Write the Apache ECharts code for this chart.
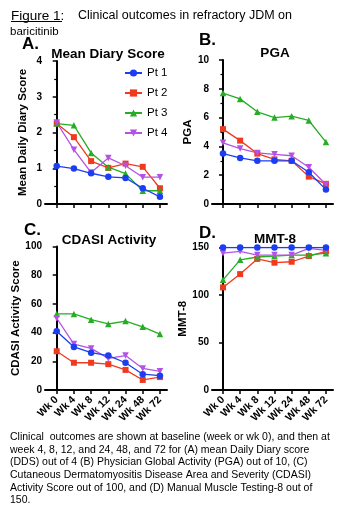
<!DOCTYPE html>
<html>
<head>
<meta charset="utf-8">
<script src="https://cdn.jsdelivr.net/npm/echarts@6/dist/echarts.min.js"></script>
<style>
html,body{margin:0;padding:0;background:#fff;}
#chart{width:355px;height:516px;}
</style>
</head>
<body>
<div id="chart"></div>
<script>
// ---- data ----
var weeks = ['Wk 0', 'Wk 4', 'Wk 8', 'Wk 12', 'Wk 24', 'Wk 48', 'Wk 72'];
var patients = ['Pt 1', 'Pt 2', 'Pt 3', 'Pt 4'];

var diaryPt1 = [1.06, 0.99, 0.86, 0.76, 0.73, 0.44, 0.20];
var diaryPt2 = [2.25, 1.87, 1.20, 1.01, 1.13, 1.04, 0.44];
var diaryPt3 = [2.25, 2.20, 1.43, 1.03, 0.85, 0.37, 0.37];
var diaryPt4 = [2.28, 1.52, 0.88, 1.29, 1.07, 0.75, 0.75];

var pgaPt1 = [3.5, 3.2, 3.0, 3.0, 3.0, 2.2, 1.0];
var pgaPt2 = [5.2, 4.4, 3.5, 3.1, 3.0, 1.9, 1.4];
var pgaPt3 = [7.7, 7.3, 6.4, 6.0, 6.1, 5.8, 4.3];
var pgaPt4 = [4.25, 3.85, 3.55, 3.45, 3.35, 2.55, 1.35];

var cdasiPt1 = [41, 30, 26, 24, 19, 11, 10];
var cdasiPt2 = [27, 19, 19, 18, 14, 7, 9];
var cdasiPt3 = [53, 53, 49, 46, 48, 44, 39];
var cdasiPt4 = [50, 32, 29, 22, 24, 15, 13];

var mmtPt1 = [150, 150, 150, 150, 150, 150, 150];
var mmtPt2 = [108, 122, 138, 134, 135, 141, 146];
var mmtPt3 = [116, 137, 140, 141, 142, 142, 144];
var mmtPt4 = [144, 146, 142, 142, 142, 149, 147];

var panelTitles = ['Mean Diary Score', 'PGA', 'CDASI Activity', 'MMT-8'];
var panelLetters = ['A.', 'B.', 'C.', 'D.'];
var yNames = ['Mean Daily Diary Score', 'PGA', 'CDASI Activity Score', 'MMT-8'];
var yMax = [4, 10, 100, 150];
var yStep = [1, 2, 20, 50];

var headerLead = 'Figure 1';
var headerRest = 'Clinical outcomes in refractory JDM on';
var headerWrap = 'baricitinib';
var captionLines = [
  'Clinical  outcomes are shown at baseline (week or wk 0), and then at',
  'week 4, 8, 12, and 24, 48, and 72 for (A) mean Daily Diary score',
  '(DDS) out of 4 (B) Physician Global Activity (PGA) out of 10, (C)',
  'Cutaneous Dermatomyositis Disease Area and Severity (CDASI)',
  'Activity Score out of 100, and (D) Manual Muscle Testing-8 out of',
  '150.'
];

// ---- styling / layout ----
var FONT = '"Liberation Sans", Arial, sans-serif';
var colors = ['#1c3ef2', '#f03a1f', '#25ad25', '#b552e6'];
var symbols = ['circle', 'rect', 'triangle', 'triangle'];
var rotations = [0, 0, 0, 180];
var panelData = [
  [diaryPt1, diaryPt2, diaryPt3, diaryPt4],
  [pgaPt1, pgaPt2, pgaPt3, pgaPt4],
  [cdasiPt1, cdasiPt2, cdasiPt3, cdasiPt4],
  [mmtPt1, mmtPt2, mmtPt3, mmtPt4]
];
var grids = [
  {left: 45, top: 61, width: 122, height: 143},
  {left: 212, top: 60, width: 121, height: 144},
  {left: 45, top: 246.5, width: 122, height: 143.5},
  {left: 212, top: 247.5, width: 121, height: 142.5}
];
var xMin = [-0.68, -0.64, -0.68, -0.64];
var xMax = [6.41, 6.41, 6.41, 6.41];
var nameGaps = [16, 17, 20, 22];
var minorOn = [true, true, false, false];
var idx = weeks.map(function (w, i) { return i; });

var xAxes = [], yAxes = [], series = [];
for (var p = 0; p < 4; p++) {
  xAxes.push({
    gridIndex: p, type: 'value', min: xMin[p], max: xMax[p],
    axisLine: {show: true, onZero: false, lineStyle: {color: '#000', width: 2}},
    axisTick: {show: true, customValues: idx, length: 4, lineStyle: {color: '#000', width: 1.5}},
    axisLabel: {
      show: p >= 2, customValues: idx, rotate: 45, margin: 8,
      fontFamily: FONT, fontWeight: 'bold', fontSize: 10.5, color: '#000',
      formatter: function (v) { return weeks[Math.round(v)]; }
    },
    splitLine: {show: false}
  });
  yAxes.push({
    gridIndex: p, type: 'value', min: 0, max: yMax[p], interval: yStep[p],
    name: yNames[p], nameLocation: 'middle', nameGap: nameGaps[p],
    nameTextStyle: {fontFamily: FONT, fontWeight: 'bold', fontSize: 11.5, color: '#000'},
    axisLine: {show: true, lineStyle: {color: '#000', width: 2}},
    axisTick: {show: true, length: 4, lineStyle: {color: '#000', width: 1.5}},
    minorTick: {show: minorOn[p], splitNumber: 2, length: 2.5, lineStyle: {color: '#000', width: 1.2}},
    axisLabel: {fontFamily: FONT, fontWeight: 'bold', fontSize: 10, color: '#000', margin: 3},
    splitLine: {show: false}
  });
  for (var s = 0; s < 4; s++) {
    series.push({
      type: 'line', name: patients[s], xAxisIndex: p, yAxisIndex: p,
      data: panelData[p][s].map(function (v, i) { return [i, v]; }),
      symbol: symbols[s], symbolRotate: rotations[s], symbolSize: s === 1 ? 6 : 6.5,
      showAllSymbol: true,
      lineStyle: {color: colors[s], width: 1.3},
      itemStyle: {color: colors[s]},
      z: s === 0 ? 3 : 2,
      animation: false
    });
  }
}

var titles = [];
var titlePos = [[108, 47], [275, 46], [109, 233], [275, 232]];
var letterPos = [[22, 36], [199, 32], [24, 222], [199, 225]];
for (var t = 0; t < 4; t++) {
  titles.push({
    text: panelTitles[t], left: titlePos[t][0], top: titlePos[t][1], textAlign: 'center',
    padding: 0,
    textStyle: {fontFamily: FONT, fontWeight: 'bold', fontSize: 13.5, color: '#000'}
  });
  titles.push({
    text: panelLetters[t], left: letterPos[t][0], top: letterPos[t][1], padding: 0,
    textStyle: {fontFamily: FONT, fontWeight: 'bold', fontSize: 17, color: '#000'}
  });
}

var chart = echarts.init(document.getElementById('chart'), null, {renderer: 'canvas'});
chart.setOption({
  backgroundColor: '#fff',
  animation: false,
  title: titles,
  legend: {
    data: patients, orient: 'vertical', left: 124, top: 67,
    itemWidth: 17, itemHeight: 9, itemGap: 8, padding: 0,
    textStyle: {fontFamily: FONT, fontSize: 11.5, color: '#000', lineHeight: 12}
  },
  grid: grids,
  xAxis: xAxes,
  yAxis: yAxes,
  series: series,
  graphic: [
    {type: 'text', x: 11, y: 16, style: {text: headerLead + ':', font: '13.5px ' + FONT, fill: '#000', verticalAlign: 'middle'}},
    {type: 'line', shape: {x1: 11, y1: 21.5, x2: 62, y2: 21.5}, style: {stroke: '#000', lineWidth: 1}},
    {type: 'text', x: 78, y: 16, style: {text: headerRest, font: '12.5px ' + FONT, fill: '#000', verticalAlign: 'middle'}},
    {type: 'text', x: 10, y: 32, style: {text: headerWrap, font: '11.5px ' + FONT, fill: '#000', verticalAlign: 'middle'}},
    {type: 'text', x: 10, y: 431, style: {text: captionLines.join('\n'), font: '10.5px ' + FONT, lineHeight: 12.6, fill: '#000', verticalAlign: 'top'}}
  ]
});
</script>
</body>
</html>
